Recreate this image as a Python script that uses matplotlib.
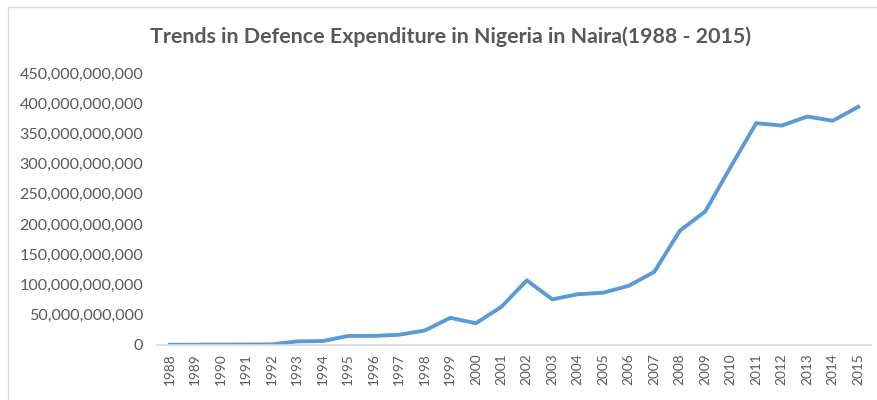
import matplotlib
matplotlib.use("Agg")
import matplotlib.pyplot as plt
from matplotlib.ticker import FuncFormatter
from matplotlib.patches import Rectangle

years = [str(y) for y in range(1988, 2016)]
# defence expenditure in naira (billions)
spend_bn = [0.3, 0.5, 0.6, 0.8, 1.0, 6.0, 6.5, 15.0, 15.0, 17.0, 24.0,
            45.0, 36.0, 63.0, 107.0, 75.5, 84.0, 86.5, 98.0, 121.0, 189.0,
            221.0, 295.0, 367.0, 363.0, 378.0, 371.0, 394.0]
spend = [v * 1e9 for v in spend_bn]

plt.rcParams['font.family'] = ['Lato', 'DejaVu Sans']
grey = '#595959'

fig = plt.figure(figsize=(8.78, 4.0), dpi=100)
ax = fig.add_axes([0.179, 0.1375, 0.813, 0.68])

x = range(len(years))
ax.plot(x, spend, color='#5B9BD5', lw=2.8, solid_joinstyle='round')

ax.set_xlim(-0.5, len(years) - 0.5)
ax.set_ylim(0, 450e9)
ax.set_yticks([i * 50e9 for i in range(10)])
ax.yaxis.set_major_formatter(FuncFormatter(lambda v, p: f"{int(v):,}"))
ax.set_xticks(list(x))
ax.set_xticklabels(years, rotation=90)

for s in ['top', 'right', 'left']:
    ax.spines[s].set_visible(False)
ax.spines['bottom'].set_color('#D9D9D9')
ax.spines['bottom'].set_linewidth(1.2)
ax.tick_params(length=0, colors=grey)
ax.tick_params(axis='x', pad=6, labelsize=9.8)
ax.tick_params(axis='y', pad=10, labelsize=11.6)

fig.text(0.513, 0.907, "Trends in Defence Expenditure in Nigeria in Naira(1988 - 2015)",
         ha='center', va='center', fontsize=15.4, fontweight='bold', color=grey)

# light chart border
fig.patches.append(Rectangle((8 / 878, -0.05), 1.0, 1.0 - 7 / 400 + 0.05,
                             transform=fig.transFigure, fill=False,
                             edgecolor='#D9D9D9', lw=1))

fig.savefig("out.png", dpi=100)
